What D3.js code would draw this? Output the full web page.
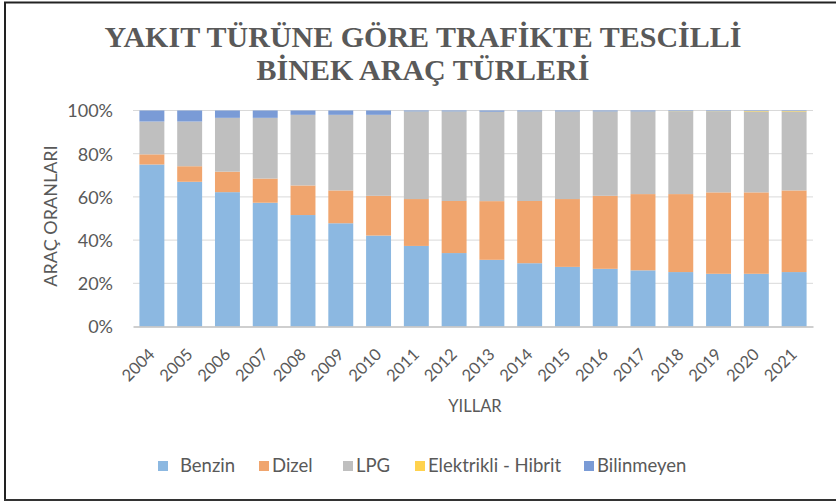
<!DOCTYPE html>
<html>
<head>
<meta charset="utf-8">
<script src="https://cdn.jsdelivr.net/npm/d3@7"></script>
<style>
  html, body { margin: 0; padding: 0; background: #fff; }
  svg { display: block; }
</style>
</head>
<body>
<svg id="chart" width="836" height="502"></svg>
<script>
// Yearly shares (%) of registered passenger cars by fuel type
const years = ["2004","2005","2006","2007","2008","2009","2010","2011","2012","2013","2014","2015","2016","2017","2018","2019","2020","2021"];
const benzin = [75.0, 67.0, 62.2, 57.3, 51.6, 47.8, 42.1, 37.3, 34.0, 30.9, 29.3, 27.6, 26.7, 26.0, 25.2, 24.4, 24.4, 25.2];
const dizel  = [4.7, 7.2, 9.5, 11.2, 13.7, 15.2, 18.4, 21.7, 24.1, 27.2, 28.8, 31.4, 33.8, 35.3, 36.1, 37.7, 37.7, 37.8];
const lpg    = [15.2, 20.7, 24.9, 28.1, 32.7, 35.0, 37.5, 40.4, 41.3, 41.3, 41.3, 40.4, 38.9, 38.1, 38.1, 37.3, 37.3, 36.4];
const hibrit = [0.0, 0.0, 0.0, 0.0, 0.0, 0.0, 0.0, 0.1, 0.1, 0.1, 0.1, 0.1, 0.1, 0.1, 0.2, 0.2, 0.3, 0.3];
const bilinmeyen = [5.1, 5.1, 3.4, 3.4, 2.0, 2.0, 2.0, 0.5, 0.5, 0.6, 0.5, 0.5, 0.5, 0.5, 0.4, 0.4, 0.3, 0.3];
const seriesNames = ["Benzin", "Dizel", "LPG", "Elektrikli - Hibrit", "Bilinmeyen"];
const seriesColors = ["#8cb8e1", "#f0a56e", "#bfbfbf", "#ffd24d", "#7a9bd6"];
const yTicks = [0, 0.2, 0.4, 0.6, 0.8, 1.0];

const table = years.map((yr, i) => {
  const total = benzin[i] + dizel[i] + lpg[i] + hibrit[i] + bilinmeyen[i];
  return {
    year: yr,
    "Benzin": benzin[i] / total,
    "Dizel": dizel[i] / total,
    "LPG": lpg[i] / total,
    "Elektrikli - Hibrit": hibrit[i] / total,
    "Bilinmeyen": bilinmeyen[i] / total
  };
});

const svg = d3.select("#chart");
const textColor = "#595959";
const sans = "Lato, 'Open Sans', 'Liberation Sans', sans-serif";

// outer frame
svg.append("line").attr("x1", 4).attr("x2", 836).attr("y1", 2.5).attr("y2", 2.5)
  .attr("stroke", "#222").attr("stroke-width", 2);
svg.append("line").attr("x1", 5).attr("x2", 5).attr("y1", 2).attr("y2", 501)
  .attr("stroke", "#222").attr("stroke-width", 2);
svg.append("line").attr("x1", 4).attr("x2", 836).attr("y1", 500).attr("y2", 500)
  .attr("stroke", "#333").attr("stroke-width", 2);

const plotLeft = 133, plotRight = 813, plotTop = 110.5, plotBottom = 326.5;

const x = d3.scaleBand().domain(years).range([plotLeft, plotRight]).paddingInner(0.34).paddingOuter(0.17);
const y = d3.scaleLinear().domain([0, 1]).range([plotBottom, plotTop]);

// title
const title = svg.append("text")
  .attr("text-anchor", "middle")
  .attr("font-family", "'Liberation Serif', 'Times New Roman', serif")
  .attr("font-weight", "bold")
  .attr("font-size", 30)
  .attr("fill", textColor);
title.append("tspan").attr("x", 423).attr("y", 47).text("YAKIT TÜRÜNE GÖRE TRAFİKTE TESCİLLİ");
title.append("tspan").attr("x", 423).attr("y", 80).text("BİNEK ARAÇ TÜRLERİ");

// gridlines
svg.append("g").selectAll("line").data(yTicks.slice(1)).join("line")
  .attr("x1", plotLeft).attr("x2", plotRight)
  .attr("y1", d => y(d)).attr("y2", d => y(d))
  .attr("stroke", "#d9d9d9").attr("stroke-width", 1);

// stacked bars
const stack = d3.stack().keys(seriesNames);
const layers = stack(table);
svg.append("g").selectAll("g").data(layers).join("g")
  .attr("fill", (d, i) => seriesColors[i])
  .selectAll("rect").data(d => d).join("rect")
  .attr("x", d => x(d.data.year))
  .attr("width", x.bandwidth())
  .attr("y", d => y(d[1]))
  .attr("height", d => Math.max(0, y(d[0]) - y(d[1])));

// y axis
const yAxis = d3.axisLeft(y).tickValues(yTicks).tickFormat(d3.format(".0%")).tickSize(0).tickPadding(20);
const gy = svg.append("g").attr("transform", `translate(${plotLeft},0)`).call(yAxis);
gy.select(".domain").remove();
gy.selectAll("text").attr("font-family", sans).attr("font-size", 18).attr("fill", textColor).attr("dy", "0.35em");

// x axis
const xAxis = d3.axisBottom(x).tickSize(0).tickPadding(0);
const gx = svg.append("g").attr("transform", `translate(0,${plotBottom})`).call(xAxis);
gx.select(".domain").attr("stroke", "#bfbfbf").attr("stroke-width", 1.5);
gx.selectAll("text")
  .attr("font-family", sans).attr("font-size", 16.5).attr("fill", textColor)
  .attr("text-anchor", "end")
  .attr("dy", 0)
  .attr("transform", "translate(4,29) rotate(-45)")
  .attr("y", 0).attr("x", 0);

// axis titles
svg.append("text")
  .attr("transform", "translate(57,216) rotate(-90)")
  .attr("text-anchor", "middle")
  .attr("font-family", sans).attr("font-size", 18).attr("fill", textColor)
  .text("ARAÇ ORANLARI");
svg.append("text")
  .attr("x", 475).attr("y", 412)
  .attr("text-anchor", "middle")
  .attr("font-family", sans).attr("font-size", 16.5).attr("fill", textColor)
  .text("YILLAR");

// legend
const legendX = [158, 259, 343, 415, 584];
const lg = svg.append("g").selectAll("g").data(seriesNames).join("g")
  .attr("transform", (d, i) => `translate(${legendX[i]},466)`);
lg.append("rect").attr("x", 0).attr("y", -5).attr("width", 10).attr("height", 10)
  .attr("fill", (d, i) => seriesColors[i]);
lg.append("text").attr("x", (d, i) => i === 0 ? 22 : 13).attr("y", 0).attr("dy", "0.35em")
  .attr("font-family", sans).attr("font-size", 18.5).attr("fill", textColor)
  .text(d => d);
</script>
</body>
</html>
